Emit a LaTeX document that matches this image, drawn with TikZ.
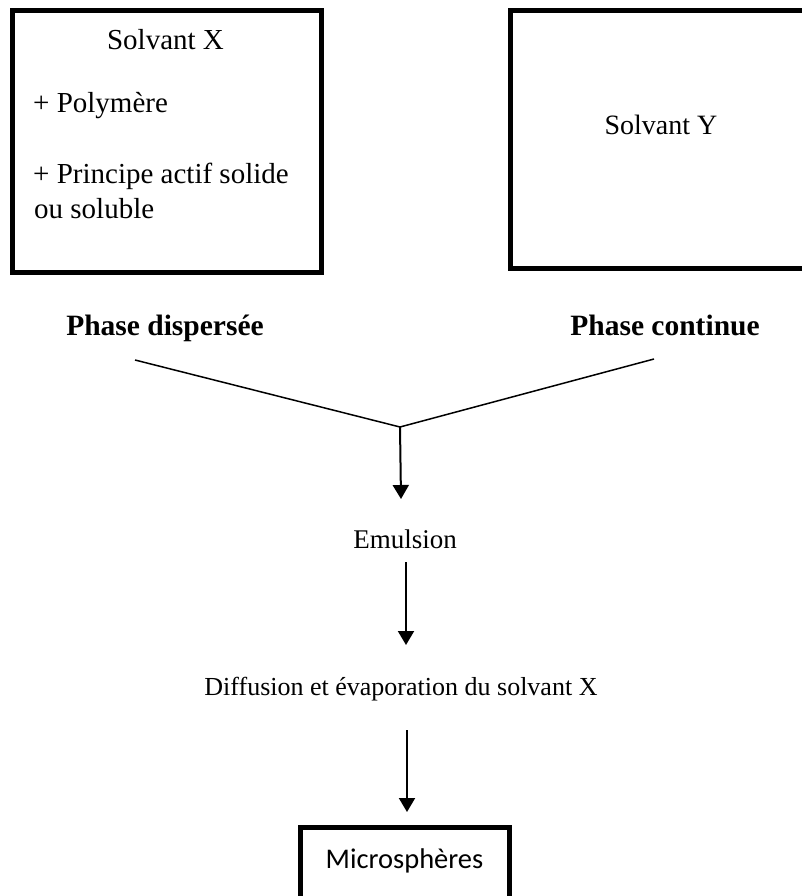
\documentclass[tikz,border=0pt]{standalone}
\usepackage{fontspec}
\setmainfont{Liberation Serif}
\newfontfamily\calibrifont{Carlito}
\usetikzlibrary{arrows.meta}
\tikzset{
  thickbox/.style={draw, line width=5pt, inner sep=0pt, rectangle},
  txt/.style={inner sep=0pt, anchor=base, font=\fontsize{29}{35}\selectfont},
  txtl/.style={inner sep=0pt, anchor=base west, font=\fontsize{29}{35}\selectfont},
  phase/.style={inner sep=0pt, anchor=base, font=\fontsize{29.5}{35}\selectfont\bfseries},
  vline/.style={line width=1.5pt},
  arr/.style={line width=2pt, -{Triangle[width=16pt,length=14pt]}}
}
\begin{document}
\begin{tikzpicture}[x=1pt,y=-1pt]
\useasboundingbox (0,0) rectangle (801,896);
% boxes
\node[thickbox, minimum width=309pt, minimum height=261.5pt] (bx) at (167,141.25) {};
\node[thickbox, minimum width=301.5pt, minimum height=257.5pt] (by) at (661.25,139.25) {};
\node[thickbox, minimum width=208.5pt, minimum height=110pt] (bm) at (404.75,882.5) {};
% texts in left box
\node[txt] (sx) at (165.5,50) {Solvant X};
\node[txtl] (poly) at (33,113) {+ Polymère};
\node[txtl] (pa) at (33,183) {+ Principe actif solide};
\node[txtl] (ou) at (34,218) {ou soluble};
% right box
\node[txt, font=\fontsize{28}{34}\selectfont] (sy) at (661,135) {Solvant Y};
% phases
\node[phase] (pd) at (165,335) {Phase dispersée};
\node[phase] (pc) at (665,335) {Phase continue};
% V lines
\coordinate (l1) at (135,360);
\coordinate (r1) at (654,359);
\coordinate (j) at (400,427);
\draw[vline] (l1) -- (j) -- (r1);
% steps
\node[txt, font=\fontsize{27}{32}\selectfont] (em) at (405,548) {Emulsion};
\node[txt, font=\fontsize{26}{31}\selectfont] (df) at (401,695) {Diffusion et évaporation du solvant X};
\node[inner sep=0pt, anchor=base, font=\calibrifont\fontsize{28.5}{34}\selectfont] (ms) at (404.5,868) {Microsphères};
% arrows
\coordinate (a1) at (401,499);
\coordinate (s2) at (406,562);
\coordinate (a2) at (406,645);
\coordinate (s3) at (407,730);
\coordinate (a3) at (407,812);
\draw[arr] (j) -- (a1);
\draw[arr] (s2) -- (a2);
\draw[arr] (s3) -- (a3);
\end{tikzpicture}
\end{document}
